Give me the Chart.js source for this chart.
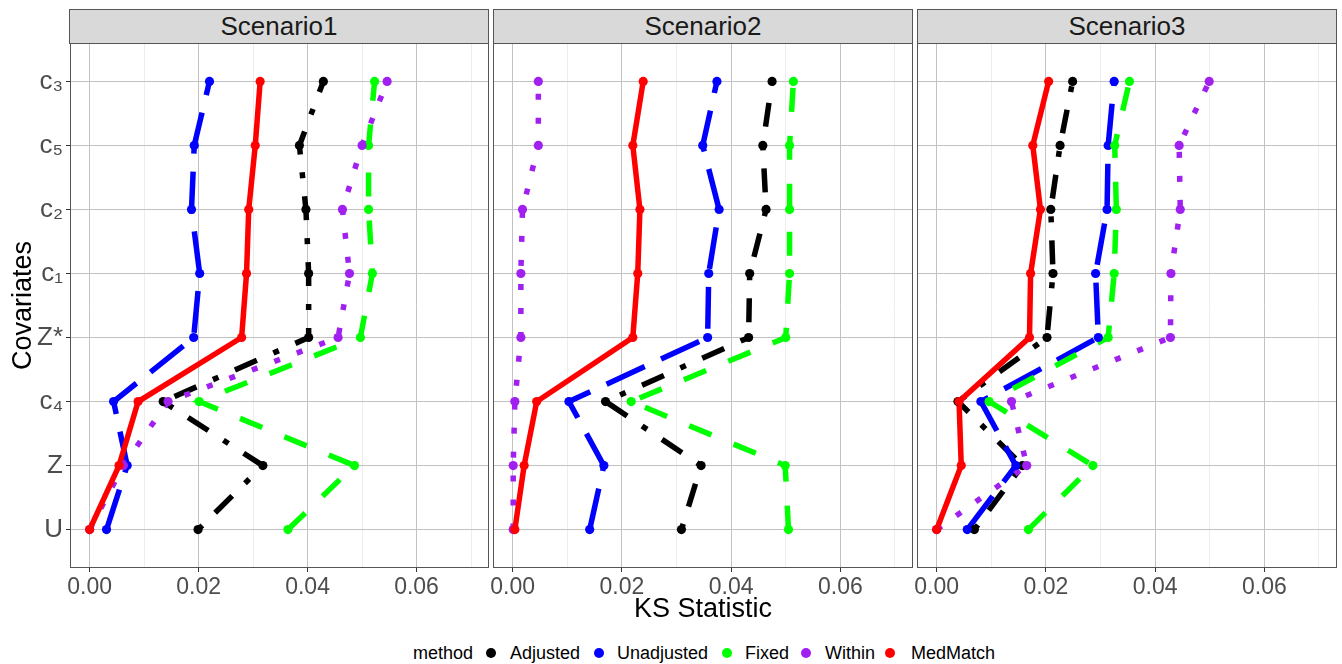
<!DOCTYPE html>
<html>
<head>
<meta charset="utf-8">
<script src="https://cdn.jsdelivr.net/npm/chart.js@4"></script>
<style>
  body { margin: 0; background: #fff; font-family: "Liberation Sans", Arial, sans-serif; }
  #wrap { position: relative; width: 1342px; height: 664px; overflow: hidden; }
  canvas { position: absolute; }
  .strip { position: absolute; top: 9px; height: 35px; background: #d9d9d9; border: 1px solid #555;
           box-sizing: border-box; font-size: 26px; color: #1a1a1a; text-align: center; line-height: 33px; }
  #xtitle { position: absolute; left: 0; width: 1342px; padding-left: 64px; box-sizing: border-box; text-align: center;
            top: 593px; font-size: 27px; color: #000; }
  .leg { position: absolute; top: 642px; font-size: 18px; color: #000; line-height: 22px; white-space: nowrap; }
  .dot { position: absolute; top: 648px; width: 10px; height: 10px; border-radius: 50%; }
</style>
</head>
<body>
<div id="wrap">
  <div class="strip" style="left:69px;width:420px">Scenario1</div>
  <div class="strip" style="left:493px;width:420px">Scenario2</div>
  <div class="strip" style="left:917px;width:420px">Scenario3</div>
  <canvas id="p1" width="489" height="560" style="left:0;top:43px"></canvas>
  <canvas id="p2" width="431" height="560" style="left:482px;top:43px"></canvas>
  <canvas id="p3" width="431" height="560" style="left:906px;top:43px"></canvas>
  <div id="xtitle">KS Statistic</div>
  <div id="legend"></div>
</div>
<script>
// covariates, bottom to top
const covariates = ["U", "Z", "c₄", "Z*", "c₁", "c₂", "c₅", "c₃"];
const methods = ["Adjusted", "Unadjusted", "Fixed", "Within", "MedMatch"];
const scenarios = ["Scenario1", "Scenario2", "Scenario3"];
const xTicks = [0, 0.01, 0.02, 0.03, 0.04, 0.05, 0.06, 0.07];

// KS statistic, ordered as covariates (U, Z, c4, Z*, c1, c2, c5, c3)
const s1Adjusted   = [0.0199, 0.0318, 0.0135, 0.0402, 0.0402, 0.0397, 0.0385, 0.0429];
const s1Unadjusted = [0.0031, 0.0069, 0.0044, 0.0191, 0.0202, 0.0187, 0.0192, 0.0220];
const s1Fixed      = [0.0364, 0.0486, 0.0201, 0.0497, 0.0519, 0.0512, 0.0512, 0.0523];
const s1Within     = [0.0000, 0.0062, 0.0144, 0.0456, 0.0477, 0.0464, 0.0500, 0.0546];
const s1MedMatch   = [0.0000, 0.0054, 0.0089, 0.0279, 0.0288, 0.0292, 0.0304, 0.0313];

const s2Adjusted   = [0.0309, 0.0345, 0.0170, 0.0432, 0.0434, 0.0464, 0.0458, 0.0475];
const s2Unadjusted = [0.0141, 0.0167, 0.0103, 0.0357, 0.0359, 0.0378, 0.0348, 0.0374];
const s2Fixed      = [0.0505, 0.0499, 0.0217, 0.0500, 0.0507, 0.0507, 0.0507, 0.0514];
const s2Within     = [0.0001, 0.0001, 0.0004, 0.0015, 0.0015, 0.0018, 0.0047, 0.0047];
const s2MedMatch   = [0.0004, 0.0021, 0.0044, 0.0220, 0.0229, 0.0233, 0.0220, 0.0239];

const s3Adjusted   = [0.0069, 0.0157, 0.0039, 0.0202, 0.0213, 0.0209, 0.0226, 0.0249];
const s3Unadjusted = [0.0056, 0.0145, 0.0081, 0.0296, 0.0291, 0.0312, 0.0314, 0.0325];
const s3Fixed      = [0.0168, 0.0286, 0.0096, 0.0314, 0.0325, 0.0329, 0.0326, 0.0353];
const s3Within     = [0.0000, 0.0165, 0.0137, 0.0428, 0.0429, 0.0446, 0.0444, 0.0499];
const s3MedMatch   = [0.0000, 0.0045, 0.0041, 0.0170, 0.0172, 0.0190, 0.0176, 0.0205];

const seriesByScenario = [
  [s1Adjusted, s1Unadjusted, s1Fixed, s1Within, s1MedMatch],
  [s2Adjusted, s2Unadjusted, s2Fixed, s2Within, s2MedMatch],
  [s3Adjusted, s3Unadjusted, s3Fixed, s3Within, s3MedMatch],
];

const colors = ["#000000", "#0000ff", "#00ff00", "#a020f0", "#ff0000"];
const dashes = [[6, 18, 24, 18], [42, 18], [24, 24], [6, 18], []];

Chart.defaults.font.family = '"Liberation Sans", Arial, sans-serif';

const isMajor = (v) => Math.round(v * 100) % 2 === 0;

const panelBorder = {
  id: "panelBorder",
  afterDraw(chart) {
    const a = chart.chartArea;
    const ctx = chart.ctx;
    ctx.save();
    ctx.strokeStyle = "#555555";
    ctx.lineWidth = 1;
    ctx.strokeRect(Math.round(a.left) + 0.5, Math.round(a.top) + 0.5,
      Math.round(a.right - a.left) - 1, Math.round(a.bottom - a.top) - 1);
    ctx.restore();
  },
};

function noPad(s) {
  s.paddingTop = 0;
  s.paddingBottom = 0;
  s.paddingLeft = 0;
  s.paddingRight = 0;
}

function buildDatasets(series) {
  const lines = series.map((vals, i) => ({
    data: vals.map((v, j) => ({ x: v, y: j + 1 })),
    borderColor: colors[i],
    borderWidth: 5.5,
    borderDash: dashes[i],
    borderCapStyle: "butt",
    pointRadius: 0,
    tension: 0,
    order: 10 + (4 - i),
  }));
  const points = series.map((vals, i) => ({
    data: vals.map((v, j) => ({ x: v, y: j + 1 })),
    showLine: false,
    pointRadius: 4.6,
    pointBackgroundColor: colors[i],
    pointBorderWidth: 0,
    order: 4 - i,
  }));
  return lines.concat(points);
}

function buildPanel(canvasId, series, first) {
  new Chart(document.getElementById(canvasId), {
    type: "line",
    data: { datasets: buildDatasets(series) },
    plugins: [panelBorder],
    options: {
      responsive: false,
      animation: false,
      layout: { autoPadding: false, padding: { left: first ? 0 : 11, right: 0, top: 0, bottom: 0 } },
      plugins: { legend: { display: false }, tooltip: { enabled: false } },
      scales: {
        x: {
          type: "linear",
          min: -0.0036,
          max: 0.0733,
          afterBuildTicks: (s) => { s.ticks = xTicks.map((v) => ({ value: v })); },
          afterFit: (s) => { s.height = 35; noPad(s); },
          ticks: {
            autoSkip: false,
            maxRotation: 0,
            padding: 2,
            color: "#4d4d4d",
            font: { size: 23 },
            callback: (v) => (isMajor(v) ? v.toFixed(2) : ""),
          },
          grid: {
            color: (c) => (isMajor(c.tick.value) ? "#c2c2c2" : "#ededed"),
            lineWidth: 1,
            tickLength: 4,
            tickColor: (c) => (isMajor(c.tick.value) ? "#333333" : "rgba(0,0,0,0)"),
          },
          border: { display: false },
        },
        y: {
          type: "linear",
          min: 0.4,
          max: 8.6,
          afterBuildTicks: (s) => { s.ticks = covariates.map((_, i) => ({ value: i + 1 })); },
          afterFit: (s) => { s.width = first ? 70 : 0; noPad(s); },
          ticks: {
            display: first,
            padding: 3,
            color: "#4d4d4d",
            font: { size: 26 },
            callback: (v) => covariates[Math.round(v) - 1] || "",
          },
          grid: {
            color: "#c2c2c2",
            lineWidth: 1,
            drawTicks: first,
            tickLength: 4,
            tickColor: "#333333",
          },
          border: { display: false },
          title: {
            display: first,
            text: "Covariates",
            color: "#000",
            font: { size: 27 },
            padding: { top: 7, bottom: 0 },
          },
        },
      },
    },
  });
}

buildPanel("p1", seriesByScenario[0], true);
buildPanel("p2", seriesByScenario[1], false);
buildPanel("p3", seriesByScenario[2], false);

// legend
const legend = document.getElementById("legend");
const legX = [491, 599, 727, 806, 890];
const legTextX = [510, 617, 745, 825, 911];
const m = document.createElement("div");
m.className = "leg";
m.style.left = "413px";
m.textContent = "method";
legend.appendChild(m);
methods.forEach((name, i) => {
  const d = document.createElement("div");
  d.className = "dot";
  d.style.left = (legX[i] - 5) + "px";
  d.style.background = colors[i];
  legend.appendChild(d);
  const t = document.createElement("div");
  t.className = "leg";
  t.style.left = legTextX[i] + "px";
  t.textContent = name;
  legend.appendChild(t);
});
</script>
</body>
</html>
